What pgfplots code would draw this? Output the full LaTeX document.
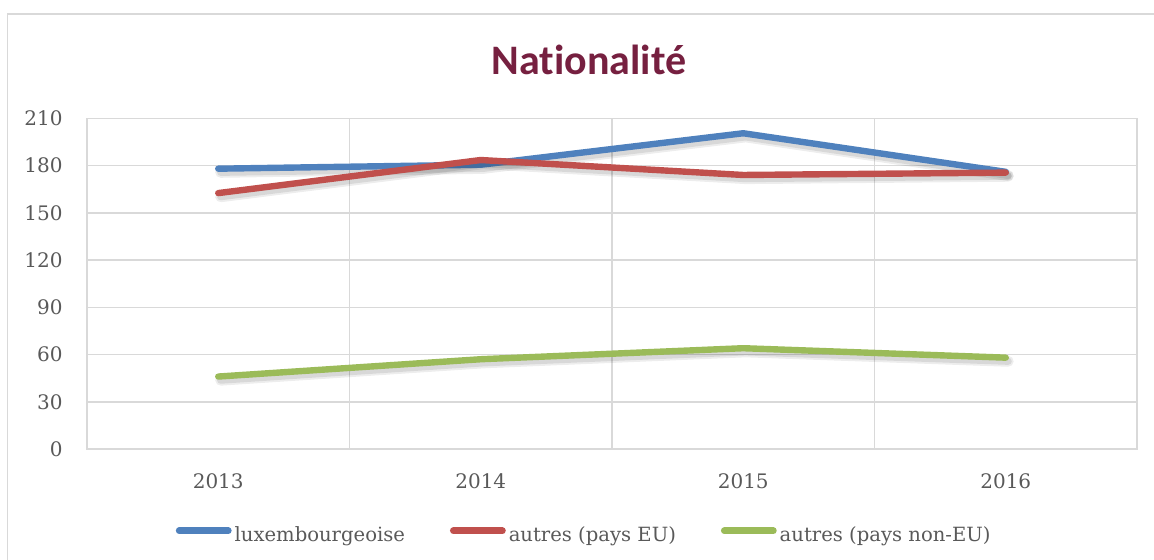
\documentclass[border=0pt]{standalone}
\usepackage{fontspec}
\setmainfont{DejaVu Serif}
\newfontfamily\titlefont[Ligatures={NoCommon,NoRare}]{Carlito}
\usepackage{pgfplots}
\pgfplotsset{compat=1.18}
\definecolor{cblue}{RGB}{79,129,189}
\definecolor{cred}{RGB}{192,80,77}
\definecolor{cgreen}{RGB}{155,187,89}
\definecolor{ctitle}{RGB}{118,32,64}
\definecolor{cgrid}{RGB}{217,217,217}
\definecolor{ctext}{RGB}{89,89,89}
\begin{document}
\begin{tikzpicture}[x=1pt,y=1pt]
\useasboundingbox (0,0) rectangle (577,280);
\draw[cgrid, line width=0.8pt] (3.65,-5) -- (3.65,273) -- (585,273);
\node[anchor=base, text=ctitle, font=\titlefont\bfseries\fontsize{21}{24}\selectfont, inner sep=0pt] at (294.5,242.5) {Nationalité};
\begin{axis}[
 at={(43.5pt,55.5pt)}, anchor=south west,
 scale only axis, width=525pt, height=165.35pt,
 xmin=0.5, xmax=4.5, ymin=0, ymax=210,
 xtick={1,2,3,4}, xticklabels={2013,2014,2015,2016},
 ytick={0,30,...,210},
 minor xtick={1.5,2.5,3.5},
 xminorgrids=true, ymajorgrids=true, xmajorgrids=false,
 grid style={cgrid, line width=0.75pt},
 minor grid style={cgrid, line width=0.75pt},
 axis line style={cgrid, line width=0.75pt},
 major tick length=0pt, minor tick length=0pt,
 tick label style={font=\fontsize{10}{12}\selectfont, text=ctext, inner sep=0pt},
 yticklabel style={xshift=-12pt},
 xticklabel style={yshift=-12pt},
 /pgf/number format/assume math mode=true,
 legend columns=3,
 legend style={draw=none, fill=none, at={(0.474,-0.262)}, anchor=center, font=\fontsize{9.8}{12}\selectfont, text=ctext, /tikz/every even column/.append style={column sep=21pt}, inner sep=0pt, nodes={inner sep=1.5pt}},
 legend image code/.code={\draw[#1, line cap=round, line width=3.4pt] (0pt,2.4pt) -- (24.5pt,2.4pt);},
 every axis plot/.append style={line width=3.2pt, line cap=round, line join=round},
 shadow/.style={black, opacity=0.07, line width=5.5pt, xshift=1.2pt, yshift=-1.8pt, forget plot},
 shadowb/.style={black, opacity=0.09, line width=3.6pt, xshift=1.2pt, yshift=-1.8pt, forget plot},
]
\addplot[shadow] coordinates {(1,178) (2,180.5) (3,200.5) (4,176)};
\addplot[shadowb] coordinates {(1,178) (2,180.5) (3,200.5) (4,176)};
\addplot[cblue] coordinates {(1,178) (2,180.5) (3,200.5) (4,176)};
\addlegendentry{luxembourgeoise}
\addplot[shadow] coordinates {(1,162.5) (2,183.5) (3,174) (4,175.5)};
\addplot[shadowb] coordinates {(1,162.5) (2,183.5) (3,174) (4,175.5)};
\addplot[cred] coordinates {(1,162.5) (2,183.5) (3,174) (4,175.5)};
\addlegendentry{autres (pays EU)}
\addplot[shadow] coordinates {(1,46) (2,57) (3,64) (4,58)};
\addplot[shadowb] coordinates {(1,46) (2,57) (3,64) (4,58)};
\addplot[cgreen] coordinates {(1,46) (2,57) (3,64) (4,58)};
\addlegendentry{autres (pays non-EU)}
\end{axis}
\end{tikzpicture}
\end{document}
